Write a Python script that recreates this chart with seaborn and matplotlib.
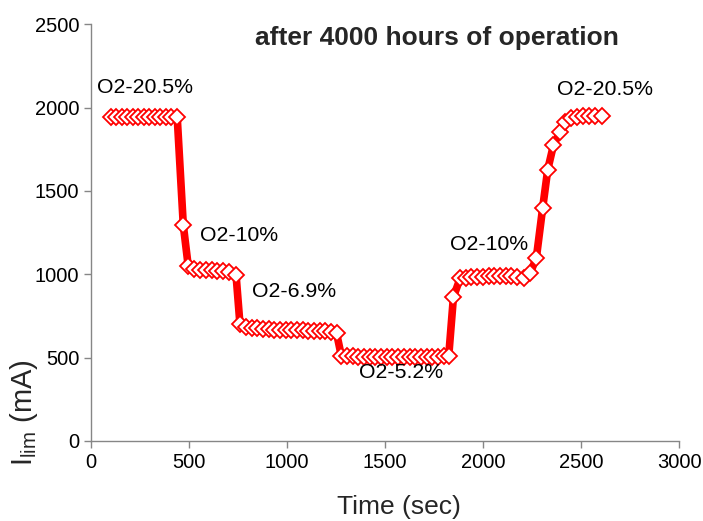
import matplotlib
matplotlib.use("Agg")
import matplotlib.pyplot as plt
import seaborn as sns
import pandas as pd

# ---- data ----
time_sec = [102, 130, 158, 186, 214, 242, 270, 298, 326, 354, 382, 410, 440,
            471, 496, 525, 555, 585, 615, 645, 675, 705, 740,
            760, 790, 819, 848, 877, 906, 935, 964, 993, 1022, 1051, 1080, 1109, 1138, 1167, 1196, 1225, 1253,
            1277, 1306, 1335, 1364, 1393, 1422, 1451, 1480, 1509, 1538, 1567, 1596, 1625, 1654, 1683, 1712,
            1741, 1770, 1799, 1825,
            1849, 1883, 1912, 1941, 1970, 1999, 2028, 2057, 2086, 2115, 2144, 2173, 2210, 2240,
            2272, 2304, 2330, 2359, 2393, 2418,
            2449, 2480, 2511, 2542, 2573, 2605]
i_lim_ma = [1945, 1945, 1945, 1945, 1945, 1945, 1945, 1945, 1945, 1945, 1945, 1945, 1942,
            1295, 1050, 1030, 1028, 1025, 1025, 1020, 1018, 1012, 997,
            700, 685, 680, 675, 672, 670, 668, 667, 665, 665, 664, 663, 662, 660, 660, 658, 655, 645,
            510, 508, 507, 506, 505, 505, 505, 505, 505, 505, 505, 505, 505, 505, 505, 505,
            505, 506, 508, 512,
            864, 975, 980, 983, 985, 985, 987, 988, 988, 990, 992, 985, 975, 1005,
            1100, 1398, 1629, 1775, 1855, 1915,
            1940, 1945, 1948, 1948, 1948, 1948]

label_texts = ["O2-20.5%", "O2-10%", "O2-6.9%", "O2-5.2%", "O2-10%", "O2-20.5%"]
label_x = [29, 556, 823, 1369, 1832, 2376]
label_y = [2091, 1200, 864, 374, 1145, 2079]

title_text = "after 4000 hours of operation"
x_ticks = [0, 500, 1000, 1500, 2000, 2500, 3000]
y_ticks = [0, 500, 1000, 1500, 2000, 2500]

df = pd.DataFrame({"time": time_sec, "ilim": i_lim_ma})

sns.set_style("ticks")
plt.rcParams["font.family"] = ["Liberation Sans", "DejaVu Sans"]
plt.rcParams["mathtext.fontset"] = "custom"
plt.rcParams["mathtext.rm"] = "Liberation Sans"
plt.rcParams["mathtext.it"] = "Liberation Sans:italic"

fig = plt.figure(figsize=(7.03, 5.21), dpi=100)
ax = fig.add_axes([0.1294, 0.154, 0.8366, 0.799])

sns.lineplot(data=df, x="time", y="ilim", ax=ax, color="#ff0000", linewidth=5.5,
             marker="D", markersize=8, markerfacecolor="white",
             markeredgecolor="#ff0000", markeredgewidth=1.3, sort=False)

for t, xx, yy in zip(label_texts, label_x, label_y):
    ax.text(xx, yy, t, fontsize=15.3, color="black", ha="left", va="baseline")

ax.text(837, 2379, title_text, fontsize=19, fontweight="bold", ha="left", va="baseline")

ax.set_xlim(0, 3000)
ax.set_ylim(0, 2500)
ax.set_xticks(x_ticks)
ax.set_yticks(y_ticks)
ax.tick_params(axis="both", labelsize=14.5, colors="#868686", labelcolor="black",
               length=5, width=1, direction="out")
for s in ["top", "right"]:
    ax.spines[s].set_visible(False)
for s in ["left", "bottom"]:
    ax.spines[s].set_color("#868686")
    ax.spines[s].set_linewidth(1)

ax.set_xlabel("Time (sec)", fontsize=19)
ax.xaxis.set_label_coords(0.524, -0.13)
ax.set_ylabel(r"I$_{\mathrm{lim}}$ (mA)", fontsize=21)
ax.yaxis.set_label_coords(-0.087, 0.068)

fig.savefig("out.png", dpi=100)
